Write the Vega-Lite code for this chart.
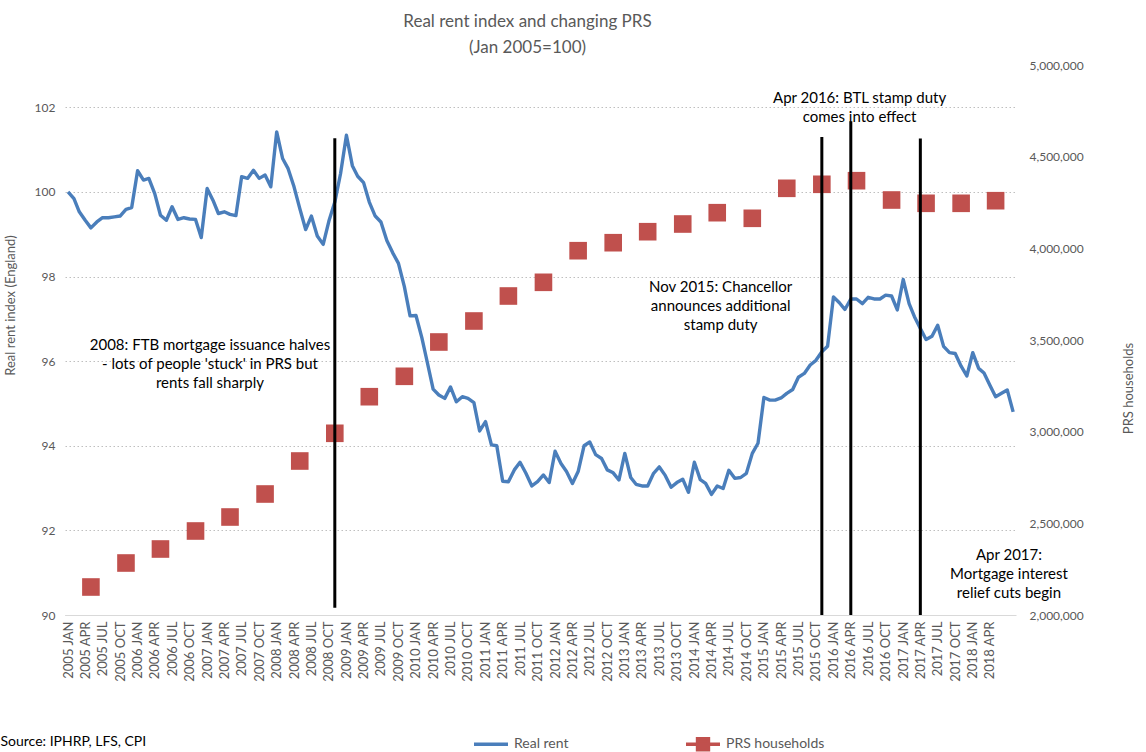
{
  "$schema": "https://vega.github.io/schema/vega-lite/v6.json",
  "width": 951,
  "height": 550,
  "autosize": {"type": "none"},
  "padding": {"left": 65, "top": 65, "right": 130, "bottom": 137},
  "background": "white",
  "config": {"view": {"stroke": null}, "font": "Lato"},
  "title": {
    "text": ["Real rent index and changing PRS", "(Jan 2005=100)"],
    "font": "Lato", "fontSize": 17, "fontWeight": "normal", "color": "#595959",
    "lineHeight": 26, "anchor": "middle", "frame": "group", "dx": -13, "offset": 2
  },
  "datasets": {
    "rent": [
      {"date": "2005/01/01", "rent": 100.00}, {"date": "2005/02/01", "rent": 99.84}, {"date": "2005/03/01", "rent": 99.53}, {"date": "2005/04/01", "rent": 99.33}, {"date": "2005/05/01", "rent": 99.15}, {"date": "2005/06/01", "rent": 99.29}, {"date": "2005/07/01", "rent": 99.39}, {"date": "2005/08/01", "rent": 99.39}, {"date": "2005/09/01", "rent": 99.41}, {"date": "2005/10/01", "rent": 99.43}, {"date": "2005/11/01", "rent": 99.59}, {"date": "2005/12/01", "rent": 99.63},
      {"date": "2006/01/01", "rent": 100.50}, {"date": "2006/02/01", "rent": 100.28}, {"date": "2006/03/01", "rent": 100.32}, {"date": "2006/04/01", "rent": 99.96}, {"date": "2006/05/01", "rent": 99.45}, {"date": "2006/06/01", "rent": 99.33}, {"date": "2006/07/01", "rent": 99.65}, {"date": "2006/08/01", "rent": 99.35}, {"date": "2006/09/01", "rent": 99.39}, {"date": "2006/10/01", "rent": 99.36}, {"date": "2006/11/01", "rent": 99.35}, {"date": "2006/12/01", "rent": 98.92},
      {"date": "2007/01/01", "rent": 100.08}, {"date": "2007/02/01", "rent": 99.80}, {"date": "2007/03/01", "rent": 99.49}, {"date": "2007/04/01", "rent": 99.53}, {"date": "2007/05/01", "rent": 99.47}, {"date": "2007/06/01", "rent": 99.44}, {"date": "2007/07/01", "rent": 100.36}, {"date": "2007/08/01", "rent": 100.32}, {"date": "2007/09/01", "rent": 100.51}, {"date": "2007/10/01", "rent": 100.32}, {"date": "2007/11/01", "rent": 100.40}, {"date": "2007/12/01", "rent": 100.12},
      {"date": "2008/01/01", "rent": 101.42}, {"date": "2008/02/01", "rent": 100.79}, {"date": "2008/03/01", "rent": 100.55}, {"date": "2008/04/01", "rent": 100.12}, {"date": "2008/05/01", "rent": 99.61}, {"date": "2008/06/01", "rent": 99.11}, {"date": "2008/07/01", "rent": 99.43}, {"date": "2008/08/01", "rent": 98.96}, {"date": "2008/09/01", "rent": 98.76}, {"date": "2008/10/01", "rent": 99.31}, {"date": "2008/11/01", "rent": 99.76}, {"date": "2008/12/01", "rent": 100.43},
      {"date": "2009/01/01", "rent": 101.34}, {"date": "2009/02/01", "rent": 100.62}, {"date": "2009/03/01", "rent": 100.37}, {"date": "2009/04/01", "rent": 100.22}, {"date": "2009/05/01", "rent": 99.76}, {"date": "2009/06/01", "rent": 99.43}, {"date": "2009/07/01", "rent": 99.29}, {"date": "2009/08/01", "rent": 98.85}, {"date": "2009/09/01", "rent": 98.56}, {"date": "2009/10/01", "rent": 98.31}, {"date": "2009/11/01", "rent": 97.76}, {"date": "2009/12/01", "rent": 97.07},
      {"date": "2010/01/01", "rent": 97.08}, {"date": "2010/02/01", "rent": 96.55}, {"date": "2010/03/01", "rent": 95.98}, {"date": "2010/04/01", "rent": 95.34}, {"date": "2010/05/01", "rent": 95.20}, {"date": "2010/06/01", "rent": 95.12}, {"date": "2010/07/01", "rent": 95.39}, {"date": "2010/08/01", "rent": 95.04}, {"date": "2010/09/01", "rent": 95.16}, {"date": "2010/10/01", "rent": 95.12}, {"date": "2010/11/01", "rent": 95.02}, {"date": "2010/12/01", "rent": 94.35},
      {"date": "2011/01/01", "rent": 94.57}, {"date": "2011/02/01", "rent": 94.02}, {"date": "2011/03/01", "rent": 94.00}, {"date": "2011/04/01", "rent": 93.16}, {"date": "2011/05/01", "rent": 93.15}, {"date": "2011/06/01", "rent": 93.43}, {"date": "2011/07/01", "rent": 93.61}, {"date": "2011/08/01", "rent": 93.35}, {"date": "2011/09/01", "rent": 93.05}, {"date": "2011/10/01", "rent": 93.15}, {"date": "2011/11/01", "rent": 93.31}, {"date": "2011/12/01", "rent": 93.13},
      {"date": "2012/01/01", "rent": 93.87}, {"date": "2012/02/01", "rent": 93.58}, {"date": "2012/03/01", "rent": 93.39}, {"date": "2012/04/01", "rent": 93.11}, {"date": "2012/05/01", "rent": 93.39}, {"date": "2012/06/01", "rent": 94.00}, {"date": "2012/07/01", "rent": 94.09}, {"date": "2012/08/01", "rent": 93.79}, {"date": "2012/09/01", "rent": 93.70}, {"date": "2012/10/01", "rent": 93.43}, {"date": "2012/11/01", "rent": 93.36}, {"date": "2012/12/01", "rent": 93.19},
      {"date": "2013/01/01", "rent": 93.82}, {"date": "2013/02/01", "rent": 93.25}, {"date": "2013/03/01", "rent": 93.09}, {"date": "2013/04/01", "rent": 93.05}, {"date": "2013/05/01", "rent": 93.05}, {"date": "2013/06/01", "rent": 93.35}, {"date": "2013/07/01", "rent": 93.50}, {"date": "2013/08/01", "rent": 93.30}, {"date": "2013/09/01", "rent": 93.02}, {"date": "2013/10/01", "rent": 93.13}, {"date": "2013/11/01", "rent": 93.21}, {"date": "2013/12/01", "rent": 92.90},
      {"date": "2014/01/01", "rent": 93.61}, {"date": "2014/02/01", "rent": 93.20}, {"date": "2014/03/01", "rent": 93.11}, {"date": "2014/04/01", "rent": 92.85}, {"date": "2014/05/01", "rent": 93.05}, {"date": "2014/06/01", "rent": 92.99}, {"date": "2014/07/01", "rent": 93.42}, {"date": "2014/08/01", "rent": 93.23}, {"date": "2014/09/01", "rent": 93.25}, {"date": "2014/10/01", "rent": 93.35}, {"date": "2014/11/01", "rent": 93.82}, {"date": "2014/12/01", "rent": 94.06},
      {"date": "2015/01/01", "rent": 95.14}, {"date": "2015/02/01", "rent": 95.08}, {"date": "2015/03/01", "rent": 95.08}, {"date": "2015/04/01", "rent": 95.13}, {"date": "2015/05/01", "rent": 95.24}, {"date": "2015/06/01", "rent": 95.33}, {"date": "2015/07/01", "rent": 95.62}, {"date": "2015/08/01", "rent": 95.71}, {"date": "2015/09/01", "rent": 95.91}, {"date": "2015/10/01", "rent": 96.02}, {"date": "2015/11/01", "rent": 96.22}, {"date": "2015/12/01", "rent": 96.35},
      {"date": "2016/01/01", "rent": 97.52}, {"date": "2016/02/01", "rent": 97.38}, {"date": "2016/03/01", "rent": 97.22}, {"date": "2016/04/01", "rent": 97.47}, {"date": "2016/05/01", "rent": 97.47}, {"date": "2016/06/01", "rent": 97.36}, {"date": "2016/07/01", "rent": 97.51}, {"date": "2016/08/01", "rent": 97.47}, {"date": "2016/09/01", "rent": 97.47}, {"date": "2016/10/01", "rent": 97.56}, {"date": "2016/11/01", "rent": 97.54}, {"date": "2016/12/01", "rent": 97.21},
      {"date": "2017/01/01", "rent": 97.93}, {"date": "2017/02/01", "rent": 97.36}, {"date": "2017/03/01", "rent": 97.05}, {"date": "2017/04/01", "rent": 96.77}, {"date": "2017/05/01", "rent": 96.51}, {"date": "2017/06/01", "rent": 96.59}, {"date": "2017/07/01", "rent": 96.85}, {"date": "2017/08/01", "rent": 96.35}, {"date": "2017/09/01", "rent": 96.20}, {"date": "2017/10/01", "rent": 96.18}, {"date": "2017/11/01", "rent": 95.88}, {"date": "2017/12/01", "rent": 95.65},
      {"date": "2018/01/01", "rent": 96.20}, {"date": "2018/02/01", "rent": 95.83}, {"date": "2018/03/01", "rent": 95.72}, {"date": "2018/04/01", "rent": 95.43}, {"date": "2018/05/01", "rent": 95.16}, {"date": "2018/06/01", "rent": 95.24}, {"date": "2018/07/01", "rent": 95.32}, {"date": "2018/08/01", "rent": 94.80}
    ],
    "prs": [
      {"date": "2005/05/01", "households": 2152700}, {"date": "2005/11/01", "households": 2283600},
      {"date": "2006/05/01", "households": 2360000}, {"date": "2006/11/01", "households": 2458200},
      {"date": "2007/05/01", "households": 2534500}, {"date": "2007/11/01", "households": 2660000},
      {"date": "2008/05/01", "households": 2840000}, {"date": "2008/11/01", "households": 2991100},
      {"date": "2009/05/01", "households": 3190700}, {"date": "2009/11/01", "households": 3302000},
      {"date": "2010/05/01", "households": 3489100}, {"date": "2010/11/01", "households": 3603600},
      {"date": "2011/05/01", "households": 3740000}, {"date": "2011/11/01", "households": 3814700},
      {"date": "2012/05/01", "households": 3987100}, {"date": "2012/11/01", "households": 4030700},
      {"date": "2013/05/01", "households": 4090700}, {"date": "2013/11/01", "households": 4132700},
      {"date": "2014/05/01", "households": 4194400}, {"date": "2014/11/01", "households": 4163800},
      {"date": "2015/05/01", "households": 4327400}, {"date": "2015/11/01", "households": 4349300},
      {"date": "2016/05/01", "households": 4368900}, {"date": "2016/11/01", "households": 4263600},
      {"date": "2017/05/01", "households": 4245600}, {"date": "2017/11/01", "households": 4245600},
      {"date": "2018/05/01", "households": 4259800}
    ],
    "events": [
      {"date": "2008/11/01", "top": 101.27, "bottom": 90.17},
      {"date": "2015/11/01", "top": 101.30, "bottom": 90},
      {"date": "2016/04/01", "top": 101.67, "bottom": 90},
      {"date": "2017/04/01", "top": 101.26, "bottom": 90}
    ],
    "notes": [
      {"date": "2007/01/16", "value": 96.38, "label": "2008: FTB mortgage issuance halves\n- lots of people 'stuck' in PRS but\nrents fall sharply"},
      {"date": "2014/05/19", "value": 97.75, "label": "Nov 2015: Chancellor\nannounces additional\nstamp duty"},
      {"date": "2016/05/17", "value": 102.23, "label": "Apr 2016: BTL stamp duty\ncomes into effect"},
      {"date": "2018/07/10", "value": 91.42, "label": "Apr 2017:\nMortgage interest\nrelief cuts begin"}
    ]
  },
  "layer": [
    {
      "data": {"name": "rent"},
      "mark": {"type": "line", "strokeWidth": 3.4, "strokeJoin": "round"},
      "encoding": {
        "x": {
          "field": "date", "type": "temporal",
          "scale": {"domain": ["2004/12/16", "2018/08/16"]},
          "axis": {
            "tickCount": {"interval": "month", "step": 3},
            "labelExpr": "datum.value > datetime(2018, 4, 1) ? '' : upper(timeFormat(datum.value, '%Y %b'))",
            "labelAngle": -90, "labelFont": "Lato", "labelFontSize": 13, "labelColor": "#595959",
            "labelPadding": 6, "labelOverlap": false, "labelFlush": false, "labelBound": false,
            "ticks": false, "domainColor": "#d9d9d9", "domainWidth": 1, "grid": false,
            "title": "Source: IPHRP, LFS, CPI", "titleFont": "Lato", "titleFontSize": 14,
            "titleFontWeight": "normal", "titleColor": "#000000", "titleAnchor": "start",
            "titleAlign": "left", "titleX": -65, "titleY": 126, "titleBaseline": "middle"
          }
        },
        "y": {
          "field": "rent", "type": "quantitative",
          "scale": {"domain": [90, 103], "nice": false, "zero": false},
          "axis": {
            "values": [90, 92, 94, 96, 98, 100, 102],
            "labelFont": "Lato", "labelFontSize": 12, "labelColor": "#595959", "labelPadding": 10,
            "ticks": false, "domain": false, "grid": true, "gridColor": "#bfbfbf",
            "gridDash": [1.5, 2.5], "gridWidth": 1,
            "title": "Real rent index (England)", "titleFont": "Lato", "titleFontSize": 13,
            "titleFontWeight": "normal", "titleColor": "#595959", "titleX": -48, "titleY": 240
          }
        },
        "color": {
          "datum": "Real rent",
          "scale": {"domain": ["Real rent", "PRS households"], "range": ["#4a7ebb", "#c0504d"]},
          "legend": {
            "orient": "none", "legendX": 407, "legendY": 660, "direction": "horizontal",
            "title": null, "columnPadding": 110, "labelFont": "Lato", "labelFontSize": 14,
            "labelColor": "#595959", "symbolSize": 1156, "symbolStrokeWidth": 3.5, "labelOffset": 4,
            "padding": 0,
            "encode": {
              "symbols": {
                "update": {
                  "shape": {"signal": "datum.value === 'PRS households' ? 'M-1,0H1M-0.32,-0.32H0.32V0.32H-0.32Z' : 'M-1,0H1M0,-0.32L0,-0.32M0,0.32L0,0.32'"},
                  "fill": {"signal": "datum.value === 'PRS households' ? '#c0504d' : 'transparent'"},
                  "stroke": {"signal": "datum.value === 'PRS households' ? '#c0504d' : '#4a7ebb'"},
                  "strokeWidth": {"value": 3.5},
                  "size": {"value": 1156},
                  "opacity": {"value": 1}
                }
              }
            }
          }
        }
      }
    },
    {
      "data": {"name": "prs"},
      "mark": {"type": "square", "size": 310, "opacity": 1, "filled": true},
      "encoding": {
        "x": {"field": "date", "type": "temporal"},
        "y": {
          "field": "households", "type": "quantitative",
          "scale": {"domain": [2000000, 5000000], "nice": false, "zero": false},
          "axis": {
            "orient": "right",
            "values": [2000000, 2500000, 3000000, 3500000, 4000000, 4500000, 5000000],
            "format": ",d", "labelFont": "Lato", "labelFontSize": 12, "labelColor": "#595959",
            "labelPadding": 13, "ticks": false, "domain": false, "grid": false,
            "title": "PRS households", "titleFont": "Lato", "titleFontSize": 13,
            "titleFontWeight": "normal", "titleColor": "#595959", "titleAngle": -90,
            "titleX": 119, "titleY": 323
          }
        },
        "color": {"datum": "PRS households"}
      }
    },
    {
      "data": {"name": "events"},
      "mark": {"type": "rule", "color": "#000000", "strokeWidth": 3},
      "encoding": {
        "x": {"field": "date", "type": "temporal"},
        "y": {"field": "top", "type": "quantitative", "scale": {"domain": [90, 103], "nice": false, "zero": false}, "axis": null},
        "y2": {"field": "bottom"}
      }
    },
    {
      "data": {"name": "notes"},
      "mark": {"type": "text", "font": "Lato", "fontSize": 15, "lineHeight": 19, "lineBreak": "\n", "align": "center", "baseline": "middle", "color": "#000000"},
      "encoding": {
        "x": {"field": "date", "type": "temporal"},
        "y": {"field": "value", "type": "quantitative", "scale": {"domain": [90, 103], "nice": false, "zero": false}, "axis": null},
        "text": {"field": "label"}
      }
    }
  ],
  "resolve": {"scale": {"y": "independent"}}
}
